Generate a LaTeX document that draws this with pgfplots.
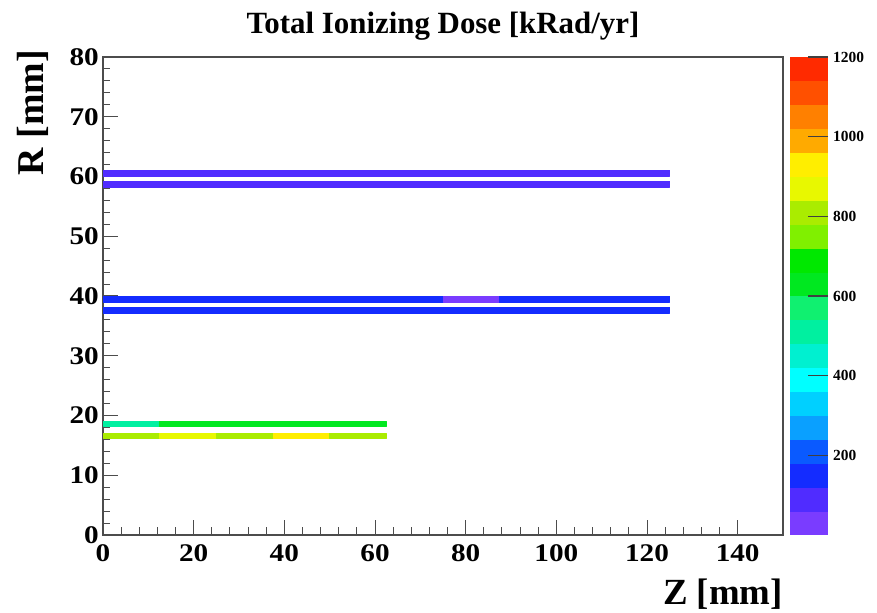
\documentclass[border=0pt]{standalone}
\usepackage{pgfplots}
\pgfplotsset{compat=1.18}
\usepgfplotslibrary{patchplots}
\usepackage{fontspec}
\setmainfont{Liberation Serif}
\newfontfamily\tickfont[FakeStretch=1.15]{Liberation Serif}

\pgfplotsset{colormap={rootpal}{
rgb255=(122,60,255)
rgb255=(80,44,255)
rgb255=(20,44,255)
rgb255=(10,90,255)
rgb255=(10,160,255)
rgb255=(0,208,255)
rgb255=(0,255,255)
rgb255=(0,240,208)
rgb255=(0,240,160)
rgb255=(16,240,112)
rgb255=(0,232,32)
rgb255=(0,232,0)
rgb255=(128,240,0)
rgb255=(170,236,0)
rgb255=(232,248,0)
rgb255=(255,238,0)
rgb255=(255,170,0)
rgb255=(255,128,0)
rgb255=(255,80,0)
rgb255=(255,42,0)
}}

\pgfplotstableread{
x y c
0 60.1 90
125 60.1 90
125 61.1 90
0 61.1 90
0 58.2 90
125 58.2 90
125 59.2 90
0 59.2 90
0 39.0 150
75 39.0 150
75 40.0 150
0 40.0 150
75 39.0 40
87.5 39.0 40
87.5 40.0 40
75 40.0 40
87.5 39.0 150
125 39.0 150
125 40.0 150
87.5 40.0 150
0 37.2 150
125 37.2 150
125 38.2 150
0 38.2 150
0 18.2 510
12.5 18.2 510
12.5 19.1 510
0 19.1 510
12.5 18.2 650
62.5 18.2 650
62.5 19.1 650
12.5 19.1 650
0 16.2 800
12.5 16.2 800
12.5 17.1 800
0 17.1 800
12.5 16.2 870
25 16.2 870
25 17.1 870
12.5 17.1 870
25 16.2 800
37.5 16.2 800
37.5 17.1 800
25 17.1 800
37.5 16.2 930
50 16.2 930
50 17.1 930
37.5 17.1 930
50 16.2 800
62.5 16.2 800
62.5 17.1 800
50 17.1 800
}\dosedata

\begin{document}
\begin{tikzpicture}
\begin{axis}[
  name=main,
  scale only axis,
  width=680bp, height=478bp,
  xmin=0, xmax=150, ymin=0, ymax=80,
  xtick={0,20,...,140}, ytick={0,10,...,80},
  minor x tick num=4, minor y tick num=4,
  tick align=inside, tick pos=left,
  major tick length=15bp, minor tick length=7.5bp,
  axis line style={draw=black!70, line width=1.2bp},
  every tick/.style={black!70, line width=1bp},
  /pgf/number format/assume math mode=true,
  /pgf/number format/1000 sep={},
  ticklabel style={font=\tickfont\bfseries\fontsize{25.5}{25.5}\selectfont, inner sep=0pt},
  yticklabel style={xshift=-4bp},
  xticklabel style={yshift=-9bp},
  title={Total Ionizing Dose [kRad/yr]},
  title style={font=\bfseries\fontsize{31}{31}\selectfont, at={(axis description cs:0.5,1)}, anchor=base, yshift=18bp},
  xlabel={Z [mm]},
  xlabel style={font=\bfseries\fontsize{37}{37}\selectfont, at={(axis description cs:1,-0.1464)}, anchor=base east, inner sep=0pt},
  ylabel={R [mm]},
  ylabel style={font=\bfseries\fontsize{38}{38}\selectfont, at={(axis description cs:-0.0882,1.0146)}, anchor=base east, inner sep=0pt},
  colormap name=rootpal,
  colormap access=piecewise constant,
  point meta min=0, point meta max=1200,
  colorbar,
  colorbar style={
    at={(parent axis.south east)}, anchor=south west, xshift=-1.5bp,
    scale only axis, width=38bp, height=478bp,
    ytick={200,400,...,1200},
    scaled y ticks=false,
    ytick pos=right, yticklabel pos=right,
    tick align=inside, ytick align=inside,
    major tick length=20bp,
    axis line style={draw=none},
    every tick/.style={black!75, line width=1.1bp},
    /pgf/number format/1000 sep={},
    /pgf/number format/assume math mode=true,
    yticklabel style={font=\bfseries\fontsize{15.5}{15.5}\selectfont, inner sep=0pt, anchor=west, xshift=5bp},
  },
]
\addplot[patch, patch type=rectangle, shader=flat corner, point meta=explicit] table[x=x, y=y, meta=c] {\dosedata};
\end{axis}
\pgfresetboundingbox
\path[use as bounding box] ([xshift=-103bp,yshift=-78bp]main.south west) rectangle ([xshift=94bp,yshift=57bp]main.north east);
\end{tikzpicture}
\end{document}
